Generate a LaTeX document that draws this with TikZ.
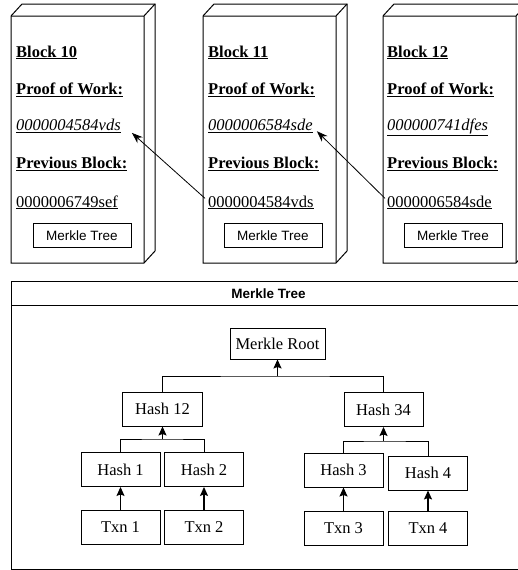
\documentclass[tikz,border=0pt]{standalone}
\usepackage{fontspec}
\setmainfont{Liberation Serif}
\setsansfont{Liberation Sans}
\usetikzlibrary{arrows.meta}
\begin{document}
\begin{tikzpicture}[x=1pt,y=-1pt,
  blk/.style={draw, line width=1pt, fill=white},
  txt/.style={anchor=base west, inner sep=0pt, font=\fontsize{16.5}{19}\selectfont},
  mt/.style={draw, line width=0.9pt, minimum width=98pt, minimum height=24pt, inner sep=0pt, font=\sffamily\fontsize{13.5}{16}\selectfont},
  tn/.style={draw, line width=0.9pt, minimum width=79pt, minimum height=34pt, inner sep=0pt, font=\fontsize{16.5}{19}\selectfont},
  conn/.style={line width=1pt},
  up/.style={line width=1.3pt, -{Stealth[width=8pt,length=9pt,inset=1.5pt]}},
  link/.style={line width=0.8pt, -{Stealth[width=8pt,length=11pt]}}
]
\clip (0,0) rectangle (518,570);
\fill[white] (0,0) rectangle (518,570);
% blocks (cubes)
\foreach \x in {11,203,383}{
  \draw[blk, line join=miter] (\x,16) -- (\x+11,4) -- (\x+144,4) -- (\x+144,251) -- (\x+133,263) -- (\x,263) -- cycle;
  \draw[line width=1pt] (\x,16) -- (\x+133,16) -- (\x+144,4) (\x+133,16) -- (\x+133,263);
}
% block 10
\node[txt] (ti1) at (16,57) {\textbf{\underline{Block 10}}};
\node[txt] (pl1) at (16,94.5) {\textbf{\underline{Proof of Work:}}};
\node[txt] (pw1) at (16,130.5) {\underline{\textit{0000004584vds}}};
\node[txt] (bl1) at (16,168.5) {\textbf{\underline{Previous Block:}}};
\node[txt] (pv1) at (16,207) {\underline{0000006749sef}};
\node[mt] (m1) at (82,235.5) {Merkle Tree};
% block 11
\node[txt] (ti2) at (208,57) {\textbf{\underline{Block 11}}};
\node[txt] (pl2) at (208,94.5) {\textbf{\underline{Proof of Work:}}};
\node[txt] (pw2) at (208,130.5) {\underline{\textit{0000006584sde}}};
\node[txt] (bl2) at (208,168.5) {\textbf{\underline{Previous Block:}}};
\node[txt] (pv2) at (208,207) {\underline{0000004584vds}};
\node[mt] (m2) at (273,235.5) {Merkle Tree};
% block 12
\node[txt] (ti3) at (387,57) {\textbf{\underline{Block 12}}};
\node[txt] (pl3) at (387,94.5) {\textbf{\underline{Proof of Work:}}};
\node[txt] (pw3) at (387,130.5) {\underline{\textit{000000741dfes}}};
\node[txt] (bl3) at (387,168.5) {\textbf{\underline{Previous Block:}}};
\node[txt] (pv3) at (387,207) {\underline{0000006584sde}};
\node[mt] (m3) at (453,235.5) {Merkle Tree};
% links
\draw[link] ([xshift=-3pt,yshift=4pt]pv2.west) -- ([xshift=11pt,yshift=0pt]pw1.south east);
\draw[link] ([xshift=-2pt,yshift=4pt]pv3.west) -- ([xshift=4pt,yshift=5pt]pw3.south west -| pw2.east);
% Merkle panel
\node[draw, line width=1pt, anchor=north west, minimum width=514pt, minimum height=288pt, inner sep=0pt] (panel) at (11,281) {};
\node[draw, line width=1pt, anchor=north west, minimum width=514pt, minimum height=24pt, inner sep=0pt,
      font=\sffamily\bfseries\fontsize{13.5}{16}\selectfont] (hdr) at (11,281) {Merkle Tree};
% tree
\node[tn, minimum width=95pt, minimum height=31pt] (root) at (277.5,343.5) {Merkle Root};
\node[tn, minimum width=80pt] (h12) at (162.5,409) {Hash 12};
\node[tn] (h34) at (383.5,409.5) {Hash 34};
\node[tn] (h1) at (120.5,469.5) {Hash 1};
\node[tn] (h2) at (204,469.5) {Hash 2};
\node[tn] (h3) at (343.5,470) {Hash 3};
\node[tn] (h4) at (428,473) {Hash 4};
\node[tn] (t1) at (120.5,527) {Txn 1};
\node[tn] (t2) at (204,527) {Txn 2};
\node[tn] (t3) at (343.5,528) {Txn 3};
\node[tn] (t4) at (428,528) {Txn 4};
\coordinate (j0) at (277.5,376);
\coordinate (j1) at (162.5,439);
\coordinate (j2) at (383.5,441);
\draw[conn] (h12.north) |- (j0) -| (h34.north);
\draw[up] (j0) -- (root.south);
\draw[conn] (h1.north) |- (j1) -| (h2.north);
\draw[up] (j1) -- (h12.south);
\draw[conn] (h3.north) |- (j2) -| (h4.north);
\draw[up] (j2) -- (h34.south);
\draw[up] (t1) -- (h1);
\draw[up] (t2) -- (h2);
\draw[up] (t3) -- (h3);
\draw[up] (t4) -- (h4);
\end{tikzpicture}
\end{document}
